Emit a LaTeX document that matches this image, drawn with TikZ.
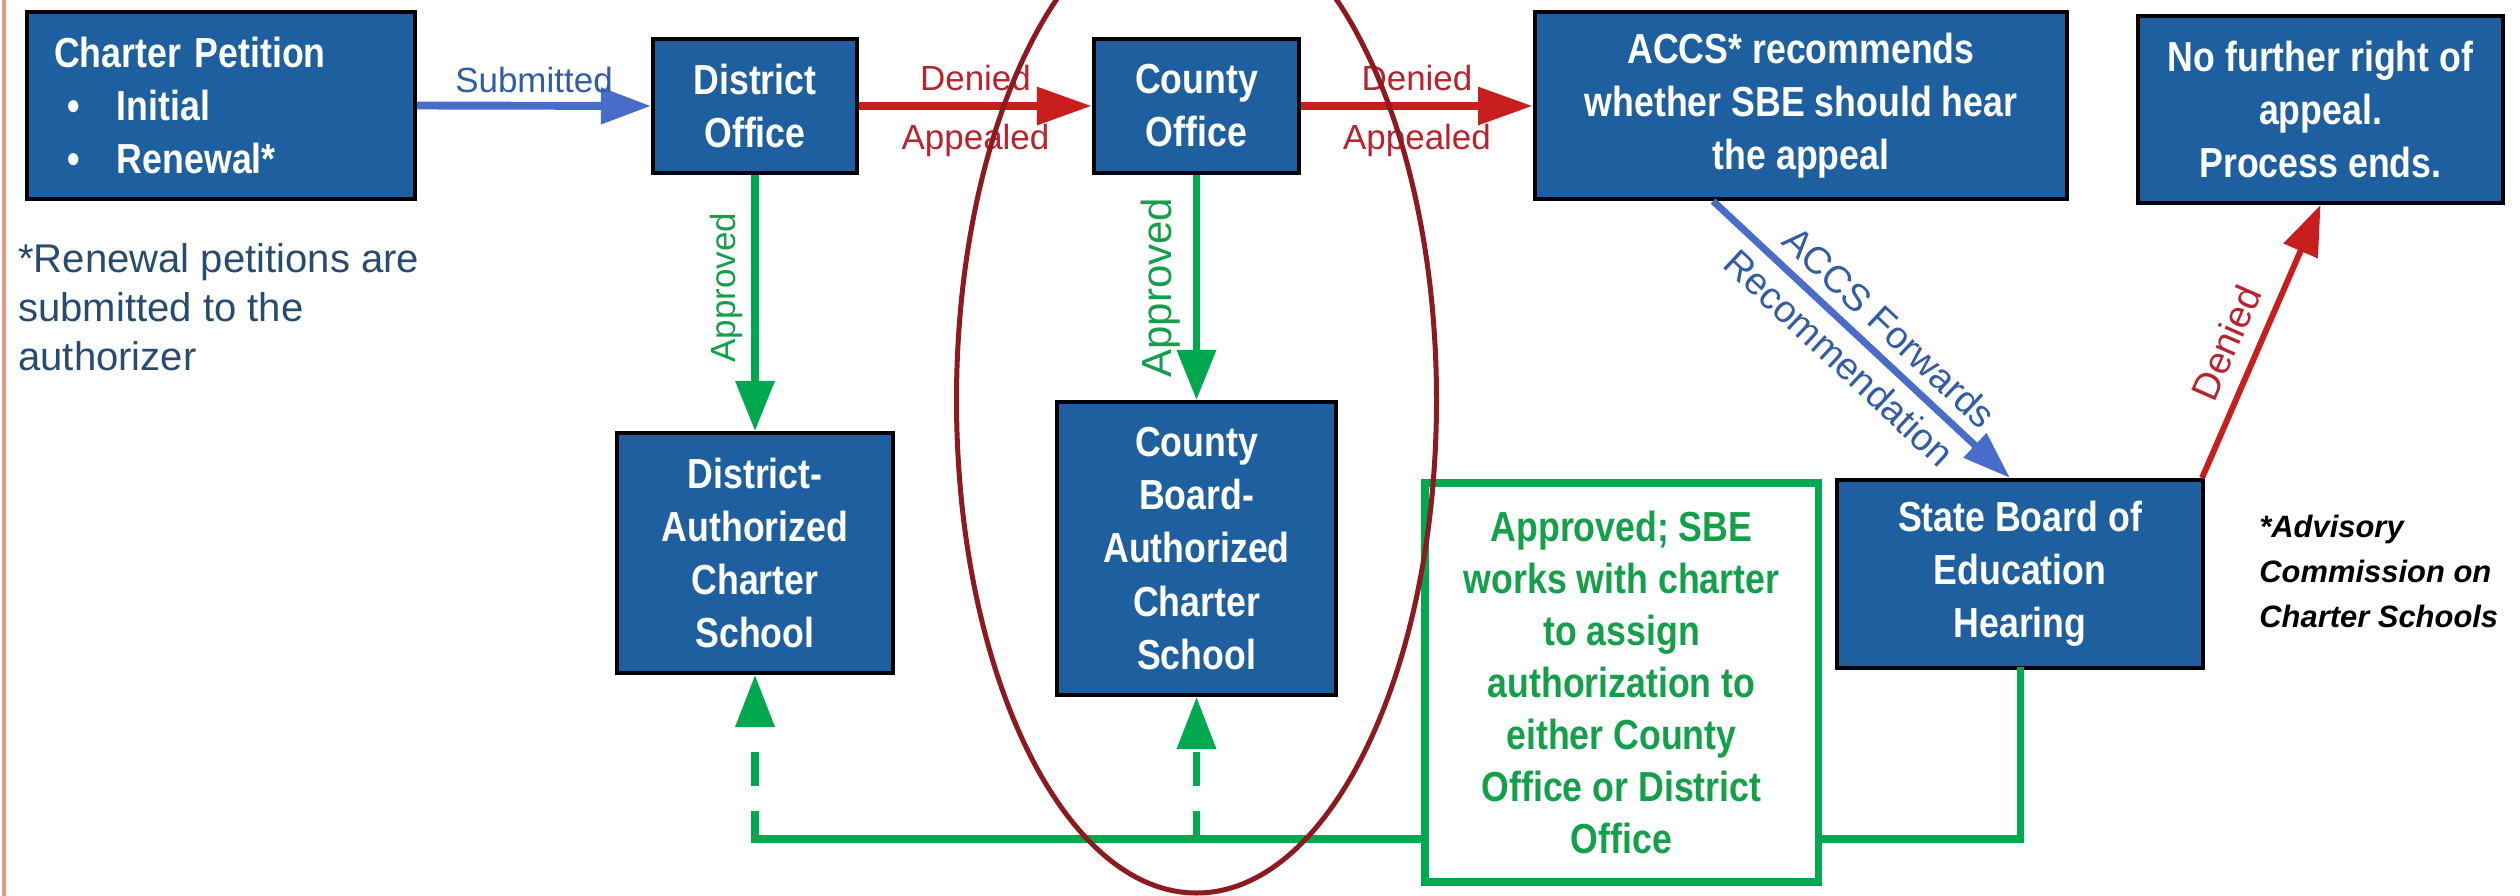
\documentclass[tikz,border=0pt]{standalone}
\usepackage{fontspec}
\setmainfont{Liberation Sans}
\newfontfamily\bnarrow{Liberation Sans}[FakeStretch=0.85]
\usetikzlibrary{arrows.meta}
\newdimen\pxu \pxu=0.02cm
\definecolor{boxblue}{RGB}{30,95,160}
\definecolor{arrowred}{RGB}{200,30,30}
\definecolor{lblred}{RGB}{185,35,45}
\definecolor{arrowblue}{RGB}{72,108,200}
\definecolor{lblblue}{RGB}{50,92,165}
\definecolor{agreen}{RGB}{0,168,80}
\definecolor{lblgreen}{RGB}{20,160,75}
\definecolor{ellred}{RGB}{140,26,30}
\definecolor{footblue}{RGB}{40,75,112}
\definecolor{salmon}{RGB}{232,150,130}
\tikzset{
  bluebox/.style={draw=black, line width=2.3pt, fill=boxblue, text=white, align=center, inner sep=0pt,
    font=\bnarrow\bfseries\fontsize{23.9pt}{30.2pt}\selectfont},
  greenbox/.style={draw=agreen, line width=4pt, fill=white, text=lblgreen, align=center, inner sep=0pt,
    font=\bnarrow\bfseries\fontsize{23.9pt}{29.6pt}\selectfont},
  lbl/.style={font=\fontsize{19.9pt}{23pt}\selectfont, inner sep=0pt},
  dlbl/.style={font=\fontsize{21.6pt}{24pt}\selectfont},
  bluearrow/.style={draw=arrowblue, line width=4.5pt, -{Triangle[length=28.5pt,width=19.9pt]}},
  bluediag/.style={draw=arrowblue, line width=4pt, -{Triangle[length=27.3pt,width=18.2pt]}},
  redarrow/.style={draw=arrowred, line width=5.1pt, -{Triangle[length=31.3pt,width=20.5pt]}},
  reddiag/.style={draw=arrowred, line width=3.4pt, -{Triangle[length=28.5pt,width=20.5pt]}},
  greenarrow/.style={draw=agreen, line width=4pt, -{Triangle[length=28.5pt,width=21.6pt]}},
  greenline/.style={draw=agreen, line width=4pt, line cap=rect},
  greendash/.style={draw=agreen, line width=4pt, dash pattern=on 15.9pt off 14.2pt on 19.3pt off 14.2pt,
    -{Triangle[length=29.6pt,width=21.6pt]}},
}
\begin{document}
\begin{tikzpicture}[x=0.02cm, y=-0.02cm]
\fill[white] (0,0) rectangle (2520,896);
\useasboundingbox (0,0) rectangle (2520,896);
\draw[salmon, line width=2.3pt] (4,0) -- (4,896);

% boxes
\node[bluebox, minimum width=388\pxu, minimum height=187\pxu, align=left, text width=334\pxu] (cp) at (221,105.5)
  {Charter Petition\\\hspace*{13\pxu}\makebox[50\pxu][l]{\textbullet}Initial\\\hspace*{13\pxu}\makebox[50\pxu][l]{\textbullet}Renewal*};
\node[bluebox, minimum width=204\pxu, minimum height=134\pxu] (dof) at (755,106) {District\\Office};
\node[bluebox, minimum width=205\pxu, minimum height=134\pxu] (cof) at (1196.5,106) {County\\Office};
\node[bluebox, minimum width=532\pxu, minimum height=187\pxu] (accs) at (1801,105.5) {ACCS* recommends\\whether SBE should hear\\the appeal};
\node[bluebox, minimum width=365\pxu, minimum height=187\pxu] (nfr) at (2320.5,109.5) {No further right of\\appeal.\\Process ends.};
\node[bluebox, minimum width=276\pxu, minimum height=240\pxu] (dacs) at (755,553) {District-\\Authorized\\Charter\\School};
\node[bluebox, minimum width=279\pxu, minimum height=293\pxu] (cbcs) at (1196.5,548.5) {County\\Board-\\Authorized\\Charter\\School};
\node[greenbox, minimum width=393\pxu, minimum height=399\pxu] (app) at (1621.5,682.5)
  {Approved; SBE\\works with charter\\to assign\\authorization to\\either County\\Office or District\\Office};
\node[bluebox, minimum width=366\pxu, minimum height=188\pxu] (sbe) at (2020,574) {State Board of\\Education\\Hearing};

% free texts
\node[anchor=north west, align=left, text=footblue, inner sep=0pt,
  font=\fontsize{22.8pt}{27.9pt}\selectfont] (fn) at (18,243) {*Renewal petitions are\\submitted to the\\authorizer};
\node[anchor=north west, align=left, text=black, inner sep=0pt,
  font=\bfseries\itshape\fontsize{17.6pt}{25.6pt}\selectfont] (adv) at (2259,515) {*Advisory\\Commission on\\Charter Schools};

% connectors
\draw[bluearrow] (cp.east) -- (dof.west)
  node[lbl, text=lblblue, midway, yshift=26\pxu] {Submitted};
\draw[redarrow] (dof.east) -- (cof.west)
  node[lbl, text=lblred, midway, yshift=28\pxu] {Denied}
  node[lbl, text=lblred, midway, yshift=-34\pxu] {Appealed};
\draw[redarrow] (cof.east) -- (cof.east -| accs.west)
  node[lbl, text=lblred, midway, yshift=28\pxu] {Denied}
  node[lbl, text=lblred, midway, yshift=-34\pxu] {Appealed};
\draw[greenarrow] (dof.south) -- (dacs.north)
  node[lbl, text=lblgreen, pos=0.44, rotate=90, anchor=south, inner sep=9\pxu] {Approved};
\draw[greenarrow] (cof.south) -- (cbcs.north)
  node[lbl, text=lblgreen, pos=0.5, rotate=90, anchor=south, inner sep=13\pxu,
    font=\fontsize{23.9pt}{26pt}\selectfont] {Approved};
\draw[bluediag] ([xshift=-88\pxu]accs.south) -- ([xshift=-10\pxu]sbe.north)
  node[dlbl, text=lblblue, pos=0.53, sloped, anchor=south, inner sep=11\pxu] {ACCS Forwards}
  node[dlbl, text=lblblue, pos=0.49, sloped, anchor=north, inner sep=11\pxu] {Recommendation};
\draw[reddiag] ([xshift=-3\pxu]sbe.north east) -- (nfr.south)
  node[dlbl, text=lblred, pos=0.45, sloped, anchor=south, inner sep=15\pxu] {Denied};

\coordinate (jd) at (755,839);
\coordinate (jc) at (1196.5,839);
\draw[greenline] (sbe.south) |- (app.east |- jd);
\draw[greenline] (app.west |- jd) -- (jd);
\draw[greendash] (jd) -- (dacs.south);
\draw[greendash] (jc) -- (cbcs.south);

% highlight ellipse
\draw[ellred, line width=2.85pt] (1196.5,400) ellipse [x radius=240\pxu, y radius=493\pxu];
\end{tikzpicture}
\end{document}
